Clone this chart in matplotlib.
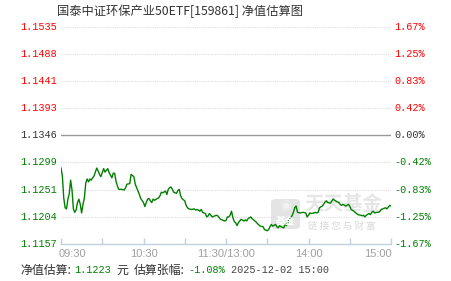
import matplotlib
matplotlib.use("Agg")
import matplotlib.pyplot as plt
from matplotlib.patches import FancyBboxPatch

# minutes since 09:30 (trading time, lunch break removed) and estimated NAV
minutes = [0, 1, 2, 3, 4, 5, 6, 7, 8, 9, 10, 11, 12, 13, 14, 15, 16, 17, 18, 19,
           20, 21, 22, 23, 24, 26, 27, 28, 29, 31, 32, 33, 34, 35, 37, 38, 39, 40,
           41, 42, 44, 46, 47, 48, 50, 51, 52, 53, 54, 55, 57, 58, 60, 61, 62, 63,
           64, 65, 66, 67, 68, 70, 71, 72, 73, 74, 76, 77, 78, 79, 80, 81, 82, 84,
           85, 86, 87, 88, 90, 91, 92, 93, 95, 97, 98, 99, 101, 102, 103, 105, 106,
           107, 108, 109, 110, 112, 113, 114, 115, 116, 118, 119, 120, 121, 122,
           123, 124, 125, 126, 127, 128, 129, 130, 131, 133, 134, 135, 136, 138,
           139, 140, 142, 143, 145, 147, 148, 150, 151, 152, 153, 154, 156, 157,
           158, 159, 160, 162, 163, 164, 165, 167, 168, 169, 170, 171, 172, 174,
           176, 178, 179, 180, 181, 182, 184, 185, 186, 187, 188, 190, 191, 192,
           193, 194, 196, 197, 198, 199, 201, 202, 203, 204, 205, 207, 208, 209,
           210, 211, 213, 214, 215, 216, 218, 219, 220, 221, 222, 224, 225, 226,
           227, 228, 230, 231, 232, 233, 234, 236, 237, 238, 239, 240]
nav = [1.1289, 1.1275, 1.1237, 1.1220, 1.1218, 1.1235, 1.1244, 1.1268, 1.1251, 1.1218,
       1.1212, 1.1216, 1.1229, 1.1235, 1.1226, 1.1211, 1.1226, 1.1237, 1.1263, 1.1270,
       1.1265, 1.1270, 1.1268, 1.1272, 1.1275, 1.1289, 1.1284, 1.1278, 1.1274, 1.1288,
       1.1282, 1.1285, 1.1288, 1.1281, 1.1272, 1.1280, 1.1280, 1.1266, 1.1258, 1.1252,
       1.1252, 1.1251, 1.1255, 1.1261, 1.1262, 1.1278, 1.1276, 1.1274, 1.1261, 1.1255,
       1.1243, 1.1236, 1.1229, 1.1222, 1.1229, 1.1235, 1.1236, 1.1232, 1.1229, 1.1235,
       1.1233, 1.1236, 1.1237, 1.1241, 1.1247, 1.1246, 1.1249, 1.1243, 1.1252, 1.1255,
       1.1256, 1.1252, 1.1247, 1.1245, 1.1250, 1.1252, 1.1241, 1.1236, 1.1232, 1.1224,
       1.1220, 1.1218, 1.1217, 1.1218, 1.1216, 1.1217, 1.1214, 1.1217, 1.1212, 1.1210,
       1.1204, 1.1206, 1.1210, 1.1207, 1.1204, 1.1206, 1.1207, 1.1206, 1.1203, 1.1200,
       1.1198, 1.1197, 1.1198, 1.1204, 1.1204, 1.1207, 1.1214, 1.1203, 1.1196, 1.1194,
       1.1189, 1.1194, 1.1197, 1.1200, 1.1197, 1.1199, 1.1197, 1.1201, 1.1204, 1.1201,
       1.1199, 1.1195, 1.1192, 1.1188, 1.1187, 1.1182, 1.1180, 1.1182, 1.1187, 1.1191,
       1.1188, 1.1191, 1.1187, 1.1185, 1.1189, 1.1187, 1.1185, 1.1191, 1.1189, 1.1195,
       1.1203, 1.1206, 1.1212, 1.1220, 1.1223, 1.1212, 1.1211, 1.1212, 1.1211, 1.1204,
       1.1207, 1.1211, 1.1210, 1.1211, 1.1212, 1.1211, 1.1212, 1.1220, 1.1223, 1.1226,
       1.1230, 1.1232, 1.1229, 1.1228, 1.1232, 1.1235, 1.1233, 1.1230, 1.1229, 1.1226,
       1.1224, 1.1226, 1.1223, 1.1224, 1.1226, 1.1223, 1.1217, 1.1214, 1.1212, 1.1210,
       1.1208, 1.1207, 1.1206, 1.1207, 1.1204, 1.1207, 1.1210, 1.1208, 1.1212, 1.1214,
       1.1211, 1.1212, 1.1212, 1.1214, 1.1217, 1.1218, 1.1220, 1.1218, 1.1221, 1.1224,
       1.1223]

nav_ticks = [1.1535, 1.1488, 1.1441, 1.1393, 1.1346, 1.1299, 1.1251, 1.1204, 1.1157]
pct_labels = ["1.67%", "1.25%", "0.83%", "0.42%", "0.00%", "-0.42%", "-0.83%", "-1.25%", "-1.67%"]
tick_colors = ["red"] * 4 + ["#333333"] + ["green"] * 4
x_ticks = [0, 30, 60, 90, 120, 150, 180, 210, 240]
x_labels = {0: "09:30", 60: "10:30", 120: "11:30/13:00", 180: "14:00", 240: "15:00"}

title = "国泰中证环保产业50ETF[159861] 净值估算图"
est_nav = "1.1223"
est_chg = "-1.08%"
stamp = "2025-12-02 15:00"

CJK = ["Noto Sans CJK SC", "DejaVu Sans"]
MONO = ["Liberation Mono", "Noto Sans CJK SC"]

W, H = 451, 281
fig = plt.figure(figsize=(W / 100, H / 100), dpi=100)
fig.patch.set_facecolor("white")
ax = fig.add_axes([61 / W, 1 - 244 / H, 330 / W, 217.5 / H])

ax.set_xlim(0, 240)
ax.set_ylim(nav_ticks[-1], nav_ticks[0])

for v, c in zip(nav_ticks, tick_colors):
    if c == "#333333":
        ax.axhline(v, color="#999999", lw=1.0, zorder=1)
    elif v != nav_ticks[-1]:
        ax.axhline(v, color="#dddddd", lw=0.8, ls=(0, (1, 1)), zorder=1)

ax.plot(minutes, nav, color="#008000", lw=1.0, zorder=3)

for s in ["top", "right", "left"]:
    ax.spines[s].set_visible(False)
ax.spines["bottom"].set_color("#c0d0e0")
ax.spines["bottom"].set_linewidth(1.0)

ax.set_xticks(x_ticks)
ax.set_xticklabels([])
ax.tick_params(axis="x", direction="in", length=4, color="#c0d0e0", width=1)
ax.set_yticks([])

trans = ax.get_xaxis_transform()
for m, lab in x_labels.items():
    ha = "left" if m == 0 else ("right" if m == 240 else "center")
    if m == 0:
        xm = m - 1.5
    elif m == 240:
        xm = m + 0.5
    else:
        xm = m
    ax.text(xm, -0.047, lab, transform=trans, ha=ha, va="center",
            color="#a0a0a0", fontsize=8, family="Liberation Sans")

for v, lab, c in zip(nav_ticks, pct_labels, tick_colors):
    ax.text(-0.012, v, f"{v:.4f}", transform=ax.get_yaxis_transform(), ha="right",
            va="center", color=c, fontsize=7.3, family=MONO)
    ax.text(1.01, v, lab, transform=ax.get_yaxis_transform(), ha="left",
            va="center", color=c, fontsize=7.3, family=MONO)

# title
fig.text(57 / W, 1 - 11.5 / H, title, ha="left", va="center", color="#333333",
         fontsize=8.8, family=CJK)

# footer
fy = 1 - 270 / H
fig.text(20 / W, fy, "净值估算:", ha="left", va="center", color="#333333", fontsize=8.6, family=CJK)
fig.text(74 / W, fy, est_nav, ha="left", va="center", color="#008000", fontsize=7.3, family=MONO)
fig.text(116 / W, fy, "元", ha="left", va="center", color="#333333", fontsize=8.6, family=CJK)
fig.text(134 / W, fy, "估算张幅:", ha="left", va="center", color="#333333", fontsize=8.6, family=CJK)
fig.text(188 / W, fy, est_chg, ha="left", va="center", color="#008000", fontsize=7.3, family=MONO)
fig.text(231 / W, fy, stamp, ha="left", va="center", color="#444444", fontsize=7.3, family=MONO)

# watermark
icon = FancyBboxPatch((271 / W, 1 - 229 / H), 29 / W, 30 / H,
                      boxstyle="round,pad=0,rounding_size=0.012",
                      transform=fig.transFigure, facecolor="#e4e4e4",
                      edgecolor="none", zorder=0)
fig.patches.append(icon)
fig.text(285.5 / W, 1 - 221 / H, "基金", ha="center", va="center", color="white",
         fontsize=7, family=CJK, fontweight="bold")
fig.text(285.5 / W, 1 - 206 / H, "◉", ha="center", va="center", color="#f2f2f2",
         fontsize=9, family=["DejaVu Sans"])
fig.text(343 / W, 1 - 205 / H, "天天基金", ha="center", va="center", color="#e6e6e6",
         fontsize=14, family=CJK, fontweight="bold", zorder=0)
fig.text(342 / W, 1 - 226 / H, "链 接 您 与 财 富", ha="center", va="center",
         color="#d9d9d9", fontsize=6.8, family=CJK, zorder=0)
ax.set_zorder(1)
ax.patch.set_alpha(0)

fig.savefig("out.png", dpi=100)
